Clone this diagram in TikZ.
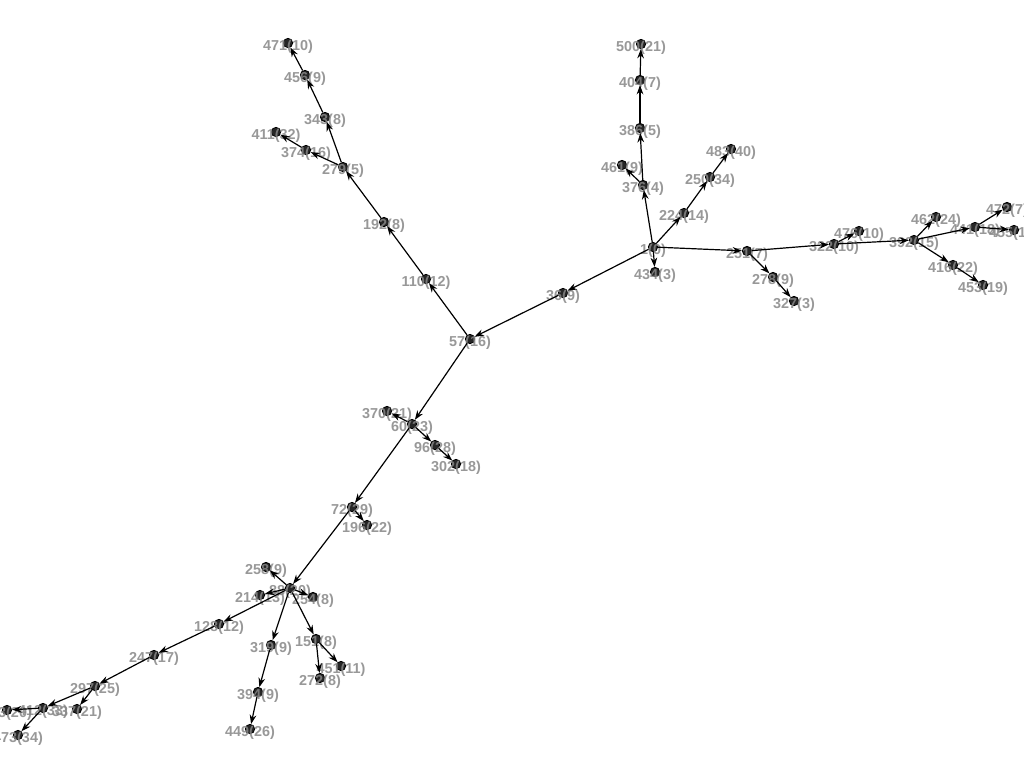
\documentclass[tikz,border=0pt]{standalone}
\usepackage{fontspec}
\setmainfont{Liberation Sans}
\usetikzlibrary{arrows.meta}
\begin{document}
\begin{tikzpicture}[x=0.75pt,y=-0.75pt,
  vert/.style={circle,draw=black,fill=black!85,line width=0.6pt,inner sep=0pt,minimum size=7pt},
  lbl/.style={text=black!47,font=\fontsize{10.8}{12}\selectfont\bfseries,inner sep=0pt,yshift=-2.5pt,fill opacity=0.85,text opacity=0.85},
  edge/.style={draw=black,line width=0.9pt,-{Stealth[length=7pt,width=5pt]}}]
\useasboundingbox (0,0) rectangle (1024,768);
\clip (0,0) rectangle (1024,768);
\fill[white] (0,0) rectangle (1024,768);
\newcommand{\vx}[3]{\node[vert,label={[lbl]center:#3}] (#1) at (#2) {};}
\vx{n1}{653,247}{1(0)}
\vx{n36}{563,293}{36(9)}
\vx{n57}{470,339}{57(16)}
\vx{n110}{426,279}{110(12)}
\vx{n192}{384,222}{192(8)}
\vx{n279}{343,167}{279(5)}
\vx{n343}{325,117}{343(8)}
\vx{n456}{305,75}{456(9)}
\vx{n471}{288,43}{471(10)}
\vx{n374}{306,150}{374(16)}
\vx{n411}{276,132}{411(32)}
\vx{n376}{643,185}{376(4)}
\vx{n386}{640,128}{386(5)}
\vx{n404}{640,80}{404(7)}
\vx{n500}{641,44}{500(21)}
\vx{n461}{622,165}{461(9)}
\vx{n224}{684,213}{224(14)}
\vx{n250}{710,177}{250(34)}
\vx{n483}{731,149}{483(40)}
\vx{n434}{655,272}{434(3)}
\vx{n251}{747,251}{251(7)}
\vx{n278}{773,277}{278(9)}
\vx{n327}{794,301}{327(3)}
\vx{n322}{834,244}{322(10)}
\vx{n476}{859,231}{476(10)}
\vx{n392}{914,240}{392(15)}
\vx{n462}{936,217}{462(24)}
\vx{n441}{975,227}{441(18)}
\vx{n472}{1007,207}{472(7)}
\vx{n455}{1014,230}{455(17)}
\vx{n416}{953,265}{416(22)}
\vx{n453}{983,285}{453(19)}
\vx{n60}{412,424}{60(23)}
\vx{n370}{387,411}{370(21)}
\vx{n96}{435,445}{96(28)}
\vx{n302}{456,464}{302(18)}
\vx{n72}{352,507}{72(29)}
\vx{n196}{367,525}{196(22)}
\vx{n88}{290,588}{88(20)}
\vx{n258}{266,567}{258(9)}
\vx{n214}{260,595}{214(13)}
\vx{n254}{313,597}{254(8)}
\vx{n128}{219,624}{128(12)}
\vx{n319}{271,645}{319(9)}
\vx{n151}{316,639}{151(8)}
\vx{n451}{341,666}{451(11)}
\vx{n272}{320,678}{272(8)}
\vx{n247}{154,655}{247(17)}
\vx{n297}{95,686}{297(25)}
\vx{n394}{258,692}{394(9)}
\vx{n449}{250,729}{449(26)}
\vx{n412}{43,708}{412(33)}
\vx{n413}{7,710}{413(20)}
\vx{n337}{77,709}{337(21)}
\vx{n473}{18,735}{473(34)}
\foreach \a/\b in {n1/n36,n36/n57,n57/n110,n110/n192,n192/n279,n279/n343,n343/n456,n456/n471,
  n279/n374,n374/n411,n1/n376,n376/n386,n386/n404,n404/n500,n376/n461,n1/n224,n224/n250,n250/n483,
  n1/n434,n1/n251,n251/n278,n278/n327,n251/n322,n322/n476,n322/n392,n392/n462,n392/n441,n441/n472,
  n441/n455,n392/n416,n416/n453,n57/n60,n60/n370,n60/n96,n96/n302,n60/n72,n72/n196,n72/n88,
  n88/n258,n88/n214,n88/n254,n88/n128,n88/n319,n319/n394,n394/n449,n88/n151,n151/n451,n151/n272,
  n128/n247,n247/n297,n297/n412,n297/n337,n412/n413,n412/n473}
  {\draw[edge] (\a) -- (\b);}
\end{tikzpicture}
\end{document}
